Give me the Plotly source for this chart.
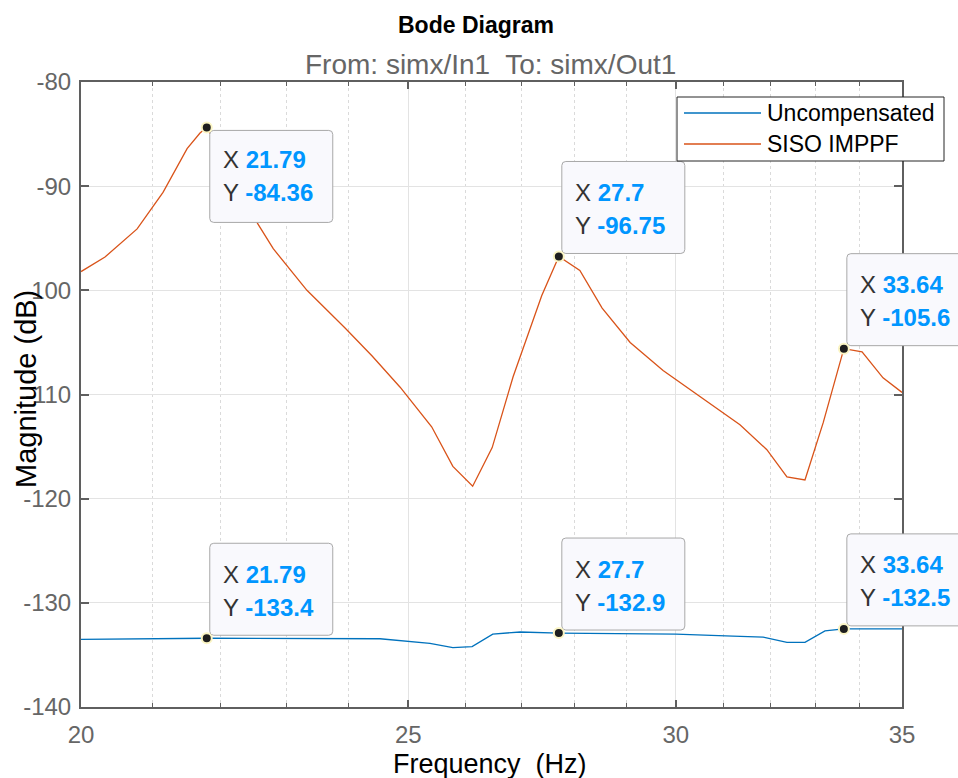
import math
import plotly.graph_objects as go

# Frequency response magnitude, SISO IMPPF (Hz, dB)
freq_siso = [20.0, 20.33, 20.78, 21.15, 21.50, 21.69, 21.79, 22.17, 22.56, 22.80,
             23.33, 23.94, 24.39, 24.86, 25.40, 25.77, 26.12, 26.47, 26.85, 27.38,
             27.70, 28.10, 28.53, 29.08, 29.74, 30.50, 31.34, 31.92, 32.36, 32.76,
             33.17, 33.64, 34.06, 34.55, 35.0]
mag_siso = [-98.2, -96.8, -94.1, -90.6, -86.4, -84.9, -84.36, -88.7, -93.6, -96.0,
            -100.0, -103.6, -106.3, -109.3, -113.1, -116.9, -118.8, -115.1, -108.3, -100.5,
            -96.75, -98.1, -101.7, -105.0, -107.7, -110.2, -112.9, -115.3, -117.9, -118.2,
            -112.7, -105.6, -105.9, -108.4, -109.8]

# Frequency response magnitude, uncompensated (Hz, dB)
freq_unc = [20.0, 21.79, 24.52, 25.03, 25.37, 25.77, 26.11, 26.48, 26.98, 27.70,
            30.0, 31.19, 31.84, 32.36, 32.76, 33.21, 33.64, 35.0]
mag_unc = [-133.5, -133.4, -133.45, -133.7, -133.9, -134.3, -134.2, -133.0, -132.8, -132.9,
           -133.0, -133.2, -133.3, -133.8, -133.8, -132.7, -132.5, -132.5]

# Data tips
tip_freq = [21.79, 27.7, 33.64]
tip_mag_siso = [-84.36, -96.75, -105.6]
tip_mag_unc = [-133.4, -132.9, -132.5]

# Axis ticks
x_range = [20, 35]
y_range = [-140, -80]
x_tickvals = [20, 25, 30, 35]
x_ticktext = ["20", "25", "30", "35"]
x_minorvals = [21, 22, 23, 24, 26, 27, 28, 29, 31, 32, 33, 34]
y_tickvals = [-140, -130, -120, -110, -100, -90, -80]
y_ticktext = ["-140", "-130", "-120", "-110", "-100", "-90", "-80"]

series_names = ["Uncompensated", "SISO IMPPF"]
series_colors = ["#0072BD", "#D95319"]

W, H = 958, 778
L, R, T, B = 81, 56, 82, 71
PW, PH = W - L - R, H - T - B

LX0, LX1 = math.log10(x_range[0]), math.log10(x_range[1])


def px(x):
    return (x - L) / PW


def py(y):
    return (H - B - y) / PH


def fx(f):
    # frequency -> paper fraction on the log axis
    return (math.log10(f) - LX0) / (LX1 - LX0)


def fy(m):
    return (m - y_range[0]) / (y_range[1] - y_range[0])


FONT = "Liberation Sans, Arial, Helvetica, sans-serif"
AX = "#5f5f5f"

fig = go.Figure()
fig.add_trace(go.Scatter(x=freq_unc, y=mag_unc, mode="lines", name=series_names[0],
                         line=dict(color=series_colors[0], width=1.3)))
fig.add_trace(go.Scatter(x=freq_siso, y=mag_siso, mode="lines", name=series_names[1],
                         line=dict(color=series_colors[1], width=1.3)))

shapes = []
annotations = []


def rounded_box(x0, x1, ya, yb, r=4):
    return (f"M {x0 + r} {ya} L {x1 - r} {ya} Q {x1} {ya} {x1} {ya + r} "
            f"L {x1} {yb - r} Q {x1} {yb} {x1 - r} {yb} L {x0 + r} {yb} "
            f"Q {x0} {yb} {x0} {yb - r} L {x0} {ya + r} Q {x0} {ya} {x0 + r} {ya} Z")


def circle_path(r):
    k = 0.5523 * r
    return (f"M {r} 0 C {r} {k} {k} {r} 0 {r} C {-k} {r} {-r} {k} {-r} 0 "
            f"C {-r} {-k} {-k} {-r} 0 {-r} C {k} {-r} {r} {-k} {r} 0 Z")


def add_tip(f, m, below):
    # box in pixel offsets from the tip point (positive y is up)
    if below:
        ya, yb = -95, -3
        line_y = (-32, -65)
    else:
        ya, yb = 3, 95
        line_y = (64, 31)
    shapes.append(dict(type="path", xref="paper", yref="paper", xsizemode="pixel",
                       ysizemode="pixel", xanchor=fx(f), yanchor=fy(m),
                       path=rounded_box(3, 126, ya, yb),
                       fillcolor="#f9f9fd", line=dict(color="#a8a8a8", width=1), layer="above"))
    for lab, val, dy in (("X", f, line_y[0]), ("Y", m, line_y[1])):
        annotations.append(dict(
            x=math.log10(f), y=m, xref="x", yref="y", showarrow=False,
            xanchor="left", yanchor="middle", xshift=14, yshift=dy,
            text=f"<span style='color:#333333'>{lab}</span> "
                 f"<span style='color:#0096ff'><b>{val:.4g}</b></span>",
            font=dict(size=24, family=FONT)))


for f, m in zip(tip_freq, tip_mag_siso):
    add_tip(f, m, below=(f == tip_freq[0]))
for f, m in zip(tip_freq, tip_mag_unc):
    add_tip(f, m, below=False)

# tip markers drawn on top of the boxes
for f, m in list(zip(tip_freq, tip_mag_siso)) + list(zip(tip_freq, tip_mag_unc)):
    shapes.append(dict(type="path", xref="paper", yref="paper", xsizemode="pixel",
                       ysizemode="pixel", xanchor=fx(f), yanchor=fy(m),
                       path=circle_path(5),
                       fillcolor="#1e1e1e", line=dict(color="#fbf5c4", width=2), layer="above"))

# legend
shapes.append(dict(type="rect", xref="paper", yref="paper",
                   x0=px(677), x1=px(944), y0=py(161), y1=py(97),
                   fillcolor="white", line=dict(color="#262626", width=1), layer="above"))
for i, (name, col) in enumerate(zip(series_names, series_colors)):
    yy = 113 + 31 * i
    shapes.append(dict(type="line", xref="paper", yref="paper",
                       x0=px(684), x1=px(761), y0=py(yy), y1=py(yy),
                       line=dict(color=col, width=1.3), layer="above"))
    annotations.append(dict(x=px(765), y=py(yy), xref="paper", yref="paper", showarrow=False,
                            xanchor="left", yanchor="middle", text=name,
                            font=dict(size=23, color="#000000", family=FONT)))

# titles and axis labels
annotations += [
    dict(x=px(476), y=py(25), xref="paper", yref="paper", showarrow=False,
         xanchor="center", yanchor="middle", text="<b>Bode Diagram</b>",
         font=dict(size=23, color="#000000", family=FONT)),
    dict(x=px(490), y=py(64), xref="paper", yref="paper", showarrow=False,
         xanchor="center", yanchor="middle", text="From: simx/In1  To: simx/Out1",
         font=dict(size=28, color="#666666", family=FONT)),
    dict(x=px(490), y=py(764), xref="paper", yref="paper", showarrow=False,
         xanchor="center", yanchor="middle", text="Frequency  (Hz)",
         font=dict(size=27, color="#000000", family=FONT)),
    dict(x=px(26), y=py(389), xref="paper", yref="paper", showarrow=False,
         xanchor="center", yanchor="middle", text="Magnitude (dB)", textangle=-90,
         font=dict(size=29, color="#000000", family=FONT)),
]

fig.update_layout(
    width=W, height=H, margin=dict(l=L, r=R, t=T, b=B),
    paper_bgcolor="white", plot_bgcolor="white", showlegend=False,
    font=dict(family=FONT),
    shapes=shapes, annotations=annotations,
)
fig.update_xaxes(
    type="log", range=[LX0, LX1],
    tickmode="array", tickvals=x_tickvals, ticktext=x_ticktext,
    ticks="inside", ticklen=7, tickwidth=1.5, tickcolor=AX,
    showline=True, linecolor=AX, linewidth=2, mirror="ticks",
    showgrid=True, gridcolor="#e3e3e3", gridwidth=1, zeroline=False,
    tickfont=dict(size=24, color="#666666", family=FONT), ticklabelstandoff=5,
    minor=dict(tickmode="array", tickvals=x_minorvals, ticks="inside", ticklen=4,
               tickcolor=AX, tickwidth=1.2, showgrid=True, gridcolor="#dadada",
               griddash="dot", gridwidth=1),
)
fig.update_yaxes(
    range=y_range, tickmode="array", tickvals=y_tickvals, ticktext=y_ticktext,
    ticks="inside", ticklen=8, tickwidth=1.5, tickcolor=AX,
    showline=True, linecolor=AX, linewidth=2, mirror="ticks",
    showgrid=True, gridcolor="#e3e3e3", gridwidth=1, zeroline=False,
    tickfont=dict(size=24, color="#666666", family=FONT), ticklabelstandoff=3,
)

fig.write_html("out.html")
